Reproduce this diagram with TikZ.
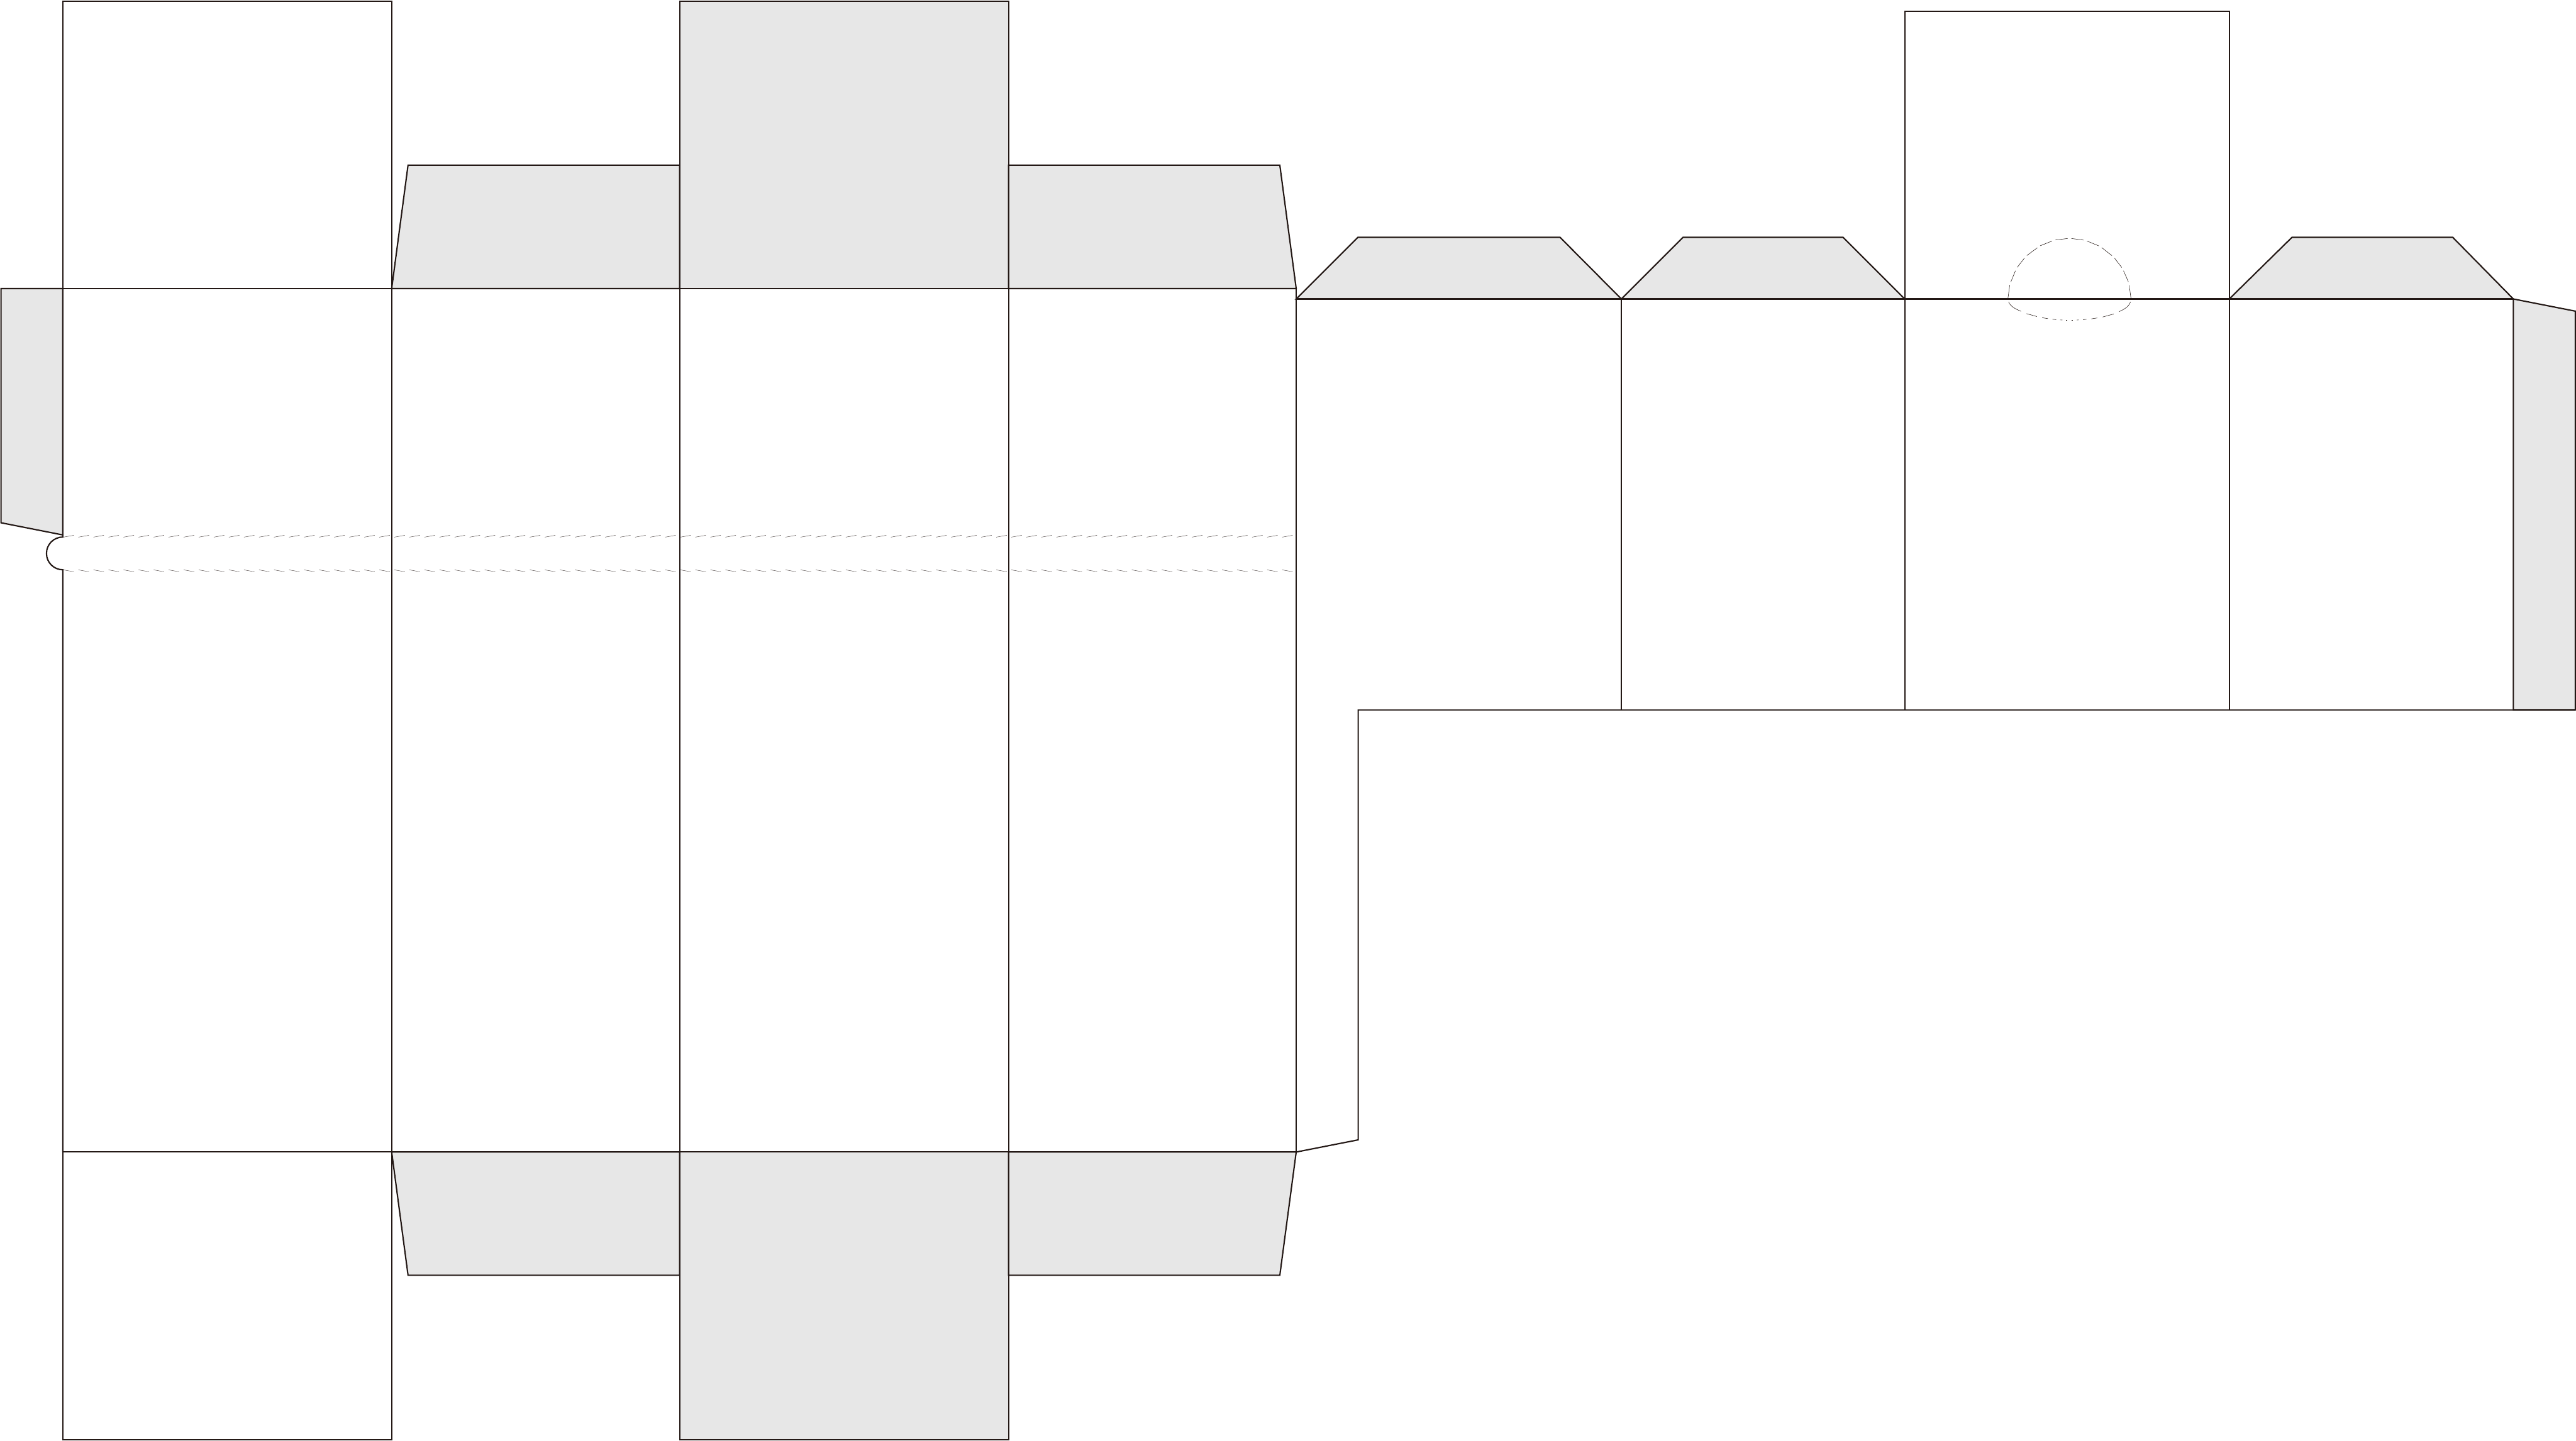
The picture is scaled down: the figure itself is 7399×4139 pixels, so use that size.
\documentclass[tikz,border=0pt]{standalone}
\definecolor{cutline}{HTML}{231815}
\definecolor{flap}{HTML}{E7E7E7}
\tikzset{
  cut/.style={draw=cutline,line width=1.1pt,line join=miter},
  tab/.style={cut,fill=flap},
  fold/.style={draw=cutline,line width=0.3pt},
  perf/.style={draw=cutline!80,line width=0.25pt}
}
\begin{document}
\begin{tikzpicture}[x=0.01cm,y=-0.01cm]
\useasboundingbox (0,0) rectangle (7399,4139);
% grey flaps
\draw[tab] (1125,829) -- (1172,474.5) -- (1952,474.5) -- (1952,829) -- cycle;
\draw[tab] (1952,3) rectangle (2897,829);
\draw[tab] (2897,474.5) -- (3676,474.5) -- (3723,829) -- (2897,829) -- cycle;
\draw[tab] (1125,3310) -- (1172,3664) -- (1952,3664) -- (1952,3310) -- cycle;
\draw[tab] (1952,3310) rectangle (2897,4136);
\draw[tab] (2897,3664) -- (3676,3664) -- (3723,3310) -- (2897,3310) -- cycle;
\draw[tab] (180.5,829) -- (3,829) -- (3,1502) -- (180.5,1537) -- cycle;
\draw[tab] (3723,859) -- (3900,682) -- (4481,682) -- (4657,859) -- cycle;
\draw[tab] (4657,859) -- (4834,682) -- (5294,682) -- (5471,859) -- cycle;
\draw[tab] (6403,859) -- (6583,682) -- (7045,682) -- (7219,859) -- cycle;
\draw[tab] (7219,859) -- (7397,894) -- (7397,2040) -- (7219,2040) -- cycle;
% main panels
\draw[cut] (180.5,3) rectangle (1125,829);
\draw[cut] (180.5,3310) rectangle (1125,4136);
\draw[cut] (180.5,829) -- (3723,829);
\draw[cut] (180.5,3310) -- (3723,3310);
\draw[cut] (180.5,829) -- (180.5,1543) arc[start angle=-90,end angle=-270,radius=47] -- (180.5,3310);
\draw[cut] (1125,829) -- (1125,3310);
\draw[cut] (1952,829) -- (1952,3310);
\draw[cut] (2897,829) -- (2897,3310);
\draw[cut] (3723,829) -- (3723,3310);
% right-hand panels
\draw[cut] (3723,859) -- (7219,859);
\draw[cut] (5471,32.5) rectangle (6403,859);
\draw[cut] (3723,3310) -- (3901,3275) -- (3901,2040) -- (7397,2040);
\draw[cut] (4657,859) -- (4657,2040);
\draw[cut] (5471,859) -- (5471,2040);
\draw[cut] (6403,859) -- (6403,2040);
% perforated lines
\foreach \k in {0,...,81}{
  \pgfmathsetmacro{\xa}{182+43.22*\k}
  \pgfmathsetmacro{\xb}{\xa+30}
  \draw[perf] (\xa,1543.3) -- (\xb,1538);
  \draw[perf] (\xa,1637.3) -- (\xb,1642.7);
}
% thumb notch, drawn dash by dash
\begin{scope}[shift={(5650,600)},x=0.003333cm,y=-0.003333cm]
\foreach \ax/\ay/\bx/\by in {353/770/368/660,378/630/417/535,433/505/495/425,516/403/606/336,631/319/733/278,763/269/868/256,900/256/1005/270,1035/278/1137/320,1162/335/1250/404,1272/425/1335/507,1350/535/1392/630,1399/660/1414/770,513/905/603/930,648/940/697/948,737/953/768/957,803/959/822/960,855/961/865/961,900/961/915/961,947/960/965/959,1000/957/1030/954,1072/950/1123/942,1170/934/1265/908}
  \draw[fold] (\ax,\ay) -- (\bx,\by);
\draw[fold] (358,803) .. controls (375,845) and (420,865) .. (465,885);
\draw[fold] (1312,888) .. controls (1360,865) and (1395,845) .. (1410,803);
\end{scope}
\end{tikzpicture}
\end{document}
